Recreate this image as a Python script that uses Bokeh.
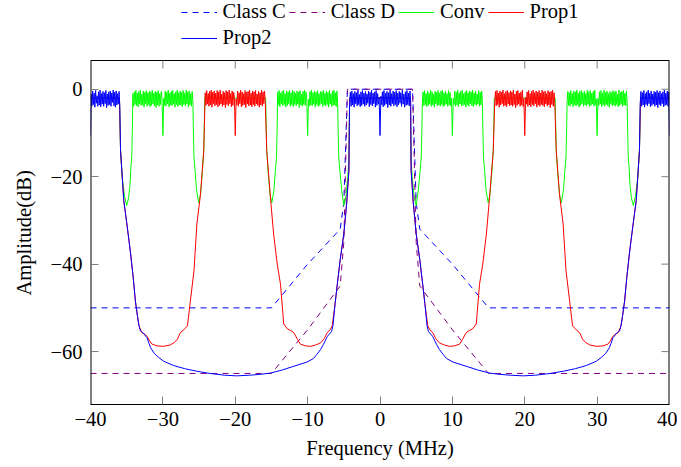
import numpy as np
from bokeh.plotting import figure
from bokeh.models import Range1d, FixedTicker, Legend, LegendItem, Title
from bokeh.embed import file_html
from bokeh.resources import INLINE

# ---------------- data ----------------
x_ticks = [-40, -30, -20, -10, 0, 10, 20, 30, 40]
x_tick_labels = ["\u221240", "\u221230", "\u221220", "\u221210", "0", "10", "20", "30", "40"]
y_ticks = [-60, -40, -20, 0]
y_tick_labels = ["\u221260", "\u221240", "\u221220", "0"]
x_lim = [-40, 40]
y_lim = [-72.1, 6.57]

mask_f = [-40, -15, -10, -5.5, -5, -4.5, 4.5, 5, 5.5, 10, 15, 40]
class_c_db = [-50, -50, -40, -32, -26, 0, 0, -26, -32, -40, -50, -50]
class_d_db = [-65, -65, -55, -45, -35, 0, 0, -35, -45, -55, -65, -65]
notch_db = [-10.6]

# ---- Prop2 (blue) ----
b_edge_l = [-1.2,-3.8,-0.4,-3.5,-0.9,-4.1,-0.3,-3.2,-1.5,-3.9,-0.6,-3.6,-0.2,-4.0,-1.0,-3.4,-0.5,-3.9,-0.8,-3.3,-0.3,-4.2,-1.1,-3.7,-0.6,-3.5,-0.4,-3.9,-0.9,-3.0,-0.2,-3.8,-0.7,-4.1,-0.4,-3.6,-1.0,-3.4,-0.5,-3.9]
b_c1 = [-3.1,-0.7,-3.9,-0.4,-3.6,-1.0,-4.1,-0.5,-3.3,-0.8,-3.8,-0.2,-3.5,-1.2,-4.0,-0.6,-3.7,-0.3,-3.4,-0.9,-3.9,-0.5,-3.6,-1.1,-3.2,-0.4,-4.0,-0.7,-3.5,-0.2,-3.8,-0.9,-3.3,-0.6,-4.1,-0.3,-3.7,-1.0,-3.4,-1.8]
b_c2 = [-1.6,-3.5,-0.6,-4.0,-0.3,-3.7,-0.9,-3.4,-0.5,-4.2,-0.8,-3.6,-0.2,-3.9,-1.0,-3.3,-0.4,-3.8,-0.7,-3.5,-0.3,-4.0,-0.9,-3.6,-0.5,-3.2,-0.8,-3.9,-0.2,-3.4,-1.1,-4.1,-0.6,-3.7,-0.3,-3.5,-0.9,-3.8,-0.4,-3.2]
b_edge_r = [-3.4,-0.5,-3.9,-0.8,-3.6,-0.3,-4.1,-1.0,-3.5,-0.6,-3.8,-0.2,-3.3,-0.9,-4.0,-0.4,-3.7,-1.1,-3.4,-0.5,-3.9,-0.7,-3.6,-0.3,-4.2,-0.8,-3.5,-0.4,-3.8,-1.0,-3.3,-0.6,-4.0,-0.2,-3.7,-0.9,-3.5,-0.4,-3.9,-0.7]
p2_skirt_l_f = [-35.85,-35.6,-35.4,-35.0,-34.5,-34.1,-33.8,-33.5,-33.3,-33.1,-32.8,-32.5,-32.2,-31.9,-31.7,-31.2,-30.6,-29.9,-28.5,-27.0,-25.3,-23.5,-21.5,-19.8,-18.0,-16.5,-15.1,-13.5,-12.0,-10.1,-9.2,-8.7,-8.2,-7.8,-7.3,-7.0,-6.7,-6.5,-6.2,-5.9,-5.5,-5.0,-4.6,-4.3]
p2_skirt_l_db = [-14.0,-20.5,-25.5,-30.5,-37.0,-43.0,-48.4,-52.0,-54.1,-55.3,-55.6,-56.2,-56.8,-58.2,-59.1,-60.4,-61.3,-62.2,-63.2,-63.9,-64.5,-65.0,-65.4,-65.55,-65.4,-65.2,-64.9,-64.2,-63.4,-62.4,-61.6,-60.6,-59.5,-58.3,-56.6,-56.0,-55.4,-54.1,-49.0,-44.6,-39.0,-33.1,-26.0,-18.6]
p2_skirt_r_f = [4.3,4.6,5.0,5.5,5.9,6.2,6.5,6.7,7.0,7.3,7.8,8.2,8.7,9.2,10.1,12.0,13.5,15.1,16.5,18.0,19.8,21.5,23.5,25.3,27.0,28.5,29.9,30.6,31.2,31.7,31.9,32.2,32.5,32.8,33.1,33.3,33.5,33.8,34.1,34.5,35.0,35.4,35.6,35.85]
p2_skirt_r_db = [-18.6,-26.0,-33.1,-39.0,-44.6,-49.0,-54.1,-55.4,-56.0,-56.6,-58.3,-59.5,-60.6,-61.6,-62.4,-63.4,-64.2,-64.9,-65.2,-65.4,-65.55,-65.4,-65.0,-64.5,-63.9,-63.2,-62.2,-61.3,-60.4,-59.1,-58.2,-56.8,-56.2,-55.6,-55.3,-54.1,-52.0,-48.4,-43.0,-37.0,-30.5,-25.5,-20.5,-14.0]

# ---- Prop1 (red) ----
r1a = [-0.8,-3.7,-0.3,-3.4,-1.0,-3.9,-0.5,-3.6,-0.2,-4.1,-0.7,-3.3,-0.4,-3.8,-0.9,-3.5,-0.3,-4.0,-0.6,-3.7,-0.2,-3.4,-1.1,-3.9,-0.5,-3.6,-0.8,-4.2,-0.3,-3.5,-0.6,-3.8,-0.2,-3.3,-1.0,-4.0,-0.4,-3.7,-0.7,-2.0]
r1b = [-2.2,-3.6,-0.4,-3.9,-0.8,-3.3,-0.2,-4.0,-0.6,-3.7,-1.0,-3.5,-0.3,-4.2,-0.7,-3.4,-0.5,-3.8,-0.2,-3.6,-0.9,-4.0,-0.4,-3.5,-0.6,-3.9,-0.3,-3.4,-1.1,-3.7,-0.5,-4.1,-0.8,-3.6,-0.2,-3.8,-0.6,-3.3,-0.4,-3.1]
r2a = [-3.0,-0.5,-3.8,-0.3,-3.5,-0.9,-4.1,-0.4,-3.6,-0.7,-3.3,-0.2,-3.9,-1.0,-3.7,-0.5,-4.0,-0.3,-3.4,-0.8,-3.8,-0.4,-3.6,-0.6,-3.9,-0.2,-3.5,-1.1,-4.2,-0.5,-3.7,-0.3,-3.4,-0.9,-3.9,-0.6,-3.6,-0.2,-4.0,-2.1]
r2b = [-1.9,-3.4,-0.6,-3.9,-0.3,-3.6,-1.0,-4.0,-0.5,-3.5,-0.2,-3.8,-0.8,-3.3,-0.4,-4.1,-0.7,-3.6,-0.3,-3.9,-0.9,-3.5,-0.2,-3.7,-0.6,-4.0,-0.4,-3.4,-1.0,-3.8,-0.3,-3.6,-0.7,-4.2,-0.5,-3.5,-0.2,-3.9,-0.8,-3.2]
p1_l_f = [-40.0,-36.0,-35.85,-35.6,-35.4,-35.0,-34.5,-34.1,-33.8,-33.5,-33.3,-32.9,-32.5,-32.2,-31.8,-31.5,-30.8,-29.9,-29.0,-28.4,-28.0,-27.6,-27.1,-26.6,-26.2,-25.7,-25.3,-24.8,-24.35]
p1_l_db = [-2.0,-2.0,-14.0,-20.5,-25.5,-30.5,-37.0,-43.0,-48.4,-52.0,-54.1,-55.7,-56.0,-56.5,-57.6,-58.3,-58.7,-58.8,-58.5,-57.9,-57.2,-55.7,-55.0,-54.1,-48.4,-41.5,-30.8,-24.0,-14.0]
p1_m_f = [-15.65,-15.1,-14.7,-14.2,-13.75,-13.3,-12.8,-12.3,-11.9,-11.4,-11.0,-10.3,-9.6,-8.9,-8.2,-7.7,-7.3,-6.9,-6.6,-6.2,-5.9,-5.5,-5.0,-4.6,-4.3,-4.2,
          4.2,4.3,4.6,5.0,5.5,5.9,6.2,6.6,6.9,7.3,7.7,8.2,8.9,9.6,10.3,11.0,11.4,11.9,12.3,12.8,13.3,13.75,14.2,14.7,15.1,15.65]
p1_m_db = [-14.0,-25.5,-33.1,-40.0,-44.6,-53.7,-54.8,-55.2,-55.7,-57.2,-58.3,-58.7,-58.8,-58.5,-58.0,-57.0,-55.7,-55.0,-54.1,-49.0,-44.6,-39.0,-33.1,-26.0,-18.6,-2.0,
           -2.0,-18.6,-26.0,-33.1,-39.0,-44.6,-49.0,-54.1,-55.0,-55.7,-57.0,-58.0,-58.5,-58.8,-58.7,-58.3,-57.2,-55.7,-55.2,-54.8,-53.7,-44.6,-40.0,-33.1,-25.5,-14.0]
p1_r_f = [24.35,24.8,25.3,25.7,26.2,26.6,27.1,27.6,28.0,28.4,29.0,29.9,30.8,31.5,31.8,32.2,32.5,32.9,33.3,33.5,33.8,34.1,34.5,35.0,35.4,35.6,35.85,36.0,40.0]
p1_r_db = [-14.0,-24.0,-30.8,-41.5,-48.4,-54.1,-55.0,-55.7,-57.2,-57.9,-58.5,-58.8,-58.7,-58.3,-57.6,-56.5,-56.0,-55.7,-54.1,-52.0,-48.4,-43.0,-37.0,-30.5,-25.5,-20.5,-14.0,-2.0,-2.0]

# ---- Conv (green) ----
g1a = [-1.0,-3.9,-0.6,-3.5,-0.3,-3.8,-0.9,-4.0,-0.5,-3.4,-0.2,-3.7,-1.1,-3.6,-0.4,-4.1,-0.7,-3.3,-0.3,-3.9,-0.8,-3.5,-0.5,-4.0,-0.6,-3.7,-0.2,-3.4,-0.9,-3.8,-0.4,-4.2,-0.7,-3.6,-0.3,-3.9,-1.0,-3.5,-0.5,-2.2]
g1b = [-2.0,-3.7,-0.4,-3.9,-0.7,-3.4,-0.2,-4.0,-0.9,-3.6,-0.5,-3.8,-0.3,-3.3,-1.0,-4.1,-0.6,-3.5,-0.2,-3.9,-0.8,-3.6,-0.4,-3.7,-0.7,-4.0,-0.3,-3.5,-0.9,-3.8,-0.2,-3.4,-0.6,-4.1,-0.4,-3.6,-1.0,-3.9,-0.5,-3.0]
g2a = [-0.7,-3.6,-0.3,-4.0,-0.9,-3.4,-0.5,-3.8,-0.2,-3.5,-1.0,-4.1,-0.4,-3.7,-0.6,-3.3,-0.3,-3.9,-0.8,-3.6,-0.2,-4.0,-0.5,-3.5,-0.9,-3.8,-0.4,-3.4,-0.7,-4.2,-0.3,-3.6,-1.1,-3.9,-0.5,-3.5,-0.2,-3.7,-0.6,-2.1]
g2b = [-2.3,-3.9,-0.5,-3.6,-0.2,-3.8,-0.8,-3.4,-0.4,-4.1,-0.7,-3.5,-0.3,-3.9,-1.0,-3.7,-0.5,-3.3,-0.6,-4.0,-0.2,-3.6,-0.9,-3.8,-0.4,-3.5,-0.7,-4.1,-0.3,-3.4,-1.0,-3.9,-0.5,-3.7,-0.2,-3.6,-0.8,-4.0,-0.4,-3.1]
g3a = [-3.2,-0.6,-3.8,-0.3,-3.5,-1.0,-4.0,-0.4,-3.7,-0.8,-3.4,-0.2,-3.9,-0.6,-3.6,-1.1,-4.1,-0.5,-3.3,-0.7,-3.8,-0.3,-3.6,-0.9,-3.9,-0.4,-3.5,-0.2,-4.0,-0.8,-3.7,-0.5,-3.4,-1.0,-3.9,-0.3,-3.6,-0.7,-3.8,-2.0]
g3b = [-2.1,-3.5,-0.4,-3.9,-0.7,-3.6,-0.2,-4.0,-0.9,-3.4,-0.5,-3.8,-0.3,-3.7,-1.0,-3.5,-0.6,-4.1,-0.3,-3.6,-0.8,-3.9,-0.4,-3.3,-0.6,-3.8,-0.2,-4.0,-0.9,-3.5,-0.5,-3.7,-1.1,-3.4,-0.3,-3.9,-0.7,-3.6,-0.4,-3.0]
g4a = [-3.0,-0.5,-3.7,-0.8,-3.9,-0.3,-3.4,-1.0,-4.0,-0.4,-3.6,-0.6,-3.8,-0.2,-3.5,-0.9,-4.1,-0.5,-3.7,-0.3,-3.3,-0.8,-3.9,-0.4,-3.6,-1.0,-3.8,-0.2,-3.5,-0.6,-4.0,-0.3,-3.7,-0.9,-3.4,-0.5,-3.9,-0.2,-3.6,-2.2]
g4b = [-2.0,-3.8,-0.6,-3.4,-0.3,-4.0,-0.9,-3.6,-0.2,-3.9,-0.7,-3.5,-0.4,-3.7,-1.0,-4.1,-0.5,-3.3,-0.8,-3.8,-0.3,-3.6,-0.6,-3.9,-0.4,-3.5,-1.1,-4.0,-0.2,-3.7,-0.7,-3.4,-0.5,-3.9,-0.3,-3.6,-0.9,-3.8,-0.4,-3.1]
cv_a_f = [-40.0,-36.0,-35.85,-35.6,-35.3,-35.0,-34.75,-34.55,-34.4,-34.3,-34.2]
cv_a_db = [-2.0,-2.0,-14.0,-20.5,-24.5,-26.6,-25.0,-22.0,-17.5,-15.5,-8.0]
cv_b_f = [-25.8,-25.7,-25.55,-25.35,-25.05,-24.8,-24.55,-24.35,-24.2,-15.8,-15.65,-15.45,-15.2,-14.95,-14.65,-14.45,-14.3,-14.2]
cv_b_db = [-8.0,-15.5,-18.5,-23.0,-26.0,-24.0,-19.0,-14.0,-2.0,-2.0,-14.0,-19.0,-24.0,-26.0,-23.0,-18.5,-15.5,-8.0]
cv_c_f = [-5.8,-5.7,-5.55,-5.3,-5.0,-4.7,-4.45,-4.3,-4.2,4.2,4.3,4.45,4.7,5.0,5.3,5.55,5.7,5.8]
cv_c_db = [-8.0,-15.5,-18.5,-23.0,-26.6,-24.5,-20.0,-16.0,-2.0,-2.0,-16.0,-20.0,-24.5,-26.6,-23.0,-18.5,-15.5,-8.0]
cv_d_f = [14.2,14.3,14.45,14.65,14.95,15.2,15.45,15.65,15.8,24.2,24.35,24.55,24.8,25.05,25.35,25.55,25.7,25.8]
cv_d_db = [-8.0,-15.5,-18.5,-23.0,-26.0,-24.0,-19.0,-14.0,-2.0,-2.0,-14.0,-19.0,-24.0,-26.0,-23.0,-18.5,-15.5,-8.0]
cv_e_f = [34.2,34.3,34.4,34.55,34.75,35.0,35.3,35.6,35.85,36.0,40.0]
cv_e_db = [-8.0,-15.5,-17.5,-22.0,-25.0,-26.6,-24.5,-20.5,-14.0,-2.0,-2.0]


def build(pieces):
    xs, ys = [], []
    for piece in pieces:
        if piece[0] == "band":
            _, f0, f1, vals = piece
            xs.extend(np.linspace(f0, f1, len(vals)).tolist())
            ys.extend(vals)
        else:
            _, fr, db = piece
            xs.extend(fr)
            ys.extend(db)
    return xs, ys


prop2_x, prop2_y = build([
    ("pts", [-40.0], notch_db),
    ("band", -39.9, -35.95, b_edge_l), ("pts", p2_skirt_l_f, p2_skirt_l_db),
    ("band", -4.2, -0.12, b_c1), ("pts", [0.0], notch_db), ("band", 0.12, 4.25, b_c2),
    ("pts", p2_skirt_r_f, p2_skirt_r_db), ("band", 35.95, 39.9, b_edge_r),
    ("pts", [40.0], notch_db)])
prop1_x, prop1_y = build([
    ("pts", p1_l_f, p1_l_db),
    ("band", -24.15, -20.12, r1a), ("pts", [-20.0], notch_db), ("band", -19.88, -15.85, r1b),
    ("pts", p1_m_f, p1_m_db),
    ("band", 15.85, 19.88, r2a), ("pts", [20.0], notch_db), ("band", 20.12, 24.15, r2b),
    ("pts", p1_r_f, p1_r_db)])
conv_x, conv_y = build([
    ("pts", cv_a_f, cv_a_db),
    ("band", -34.15, -30.12, g1a), ("pts", [-30.0], notch_db), ("band", -29.88, -25.85, g1b),
    ("pts", cv_b_f, cv_b_db),
    ("band", -14.15, -10.12, g2a), ("pts", [-10.0], notch_db), ("band", -9.88, -5.85, g2b),
    ("pts", cv_c_f, cv_c_db),
    ("band", 5.85, 9.88, g3a), ("pts", [10.0], notch_db), ("band", 10.12, 14.15, g3b),
    ("pts", cv_d_f, cv_d_db),
    ("band", 25.85, 29.88, g4a), ("pts", [30.0], notch_db), ("band", 30.12, 34.15, g4b),
    ("pts", cv_e_f, cv_e_db)])

# ---------------- figure ----------------
FONT = "Liberation Serif"
FS = "20.5px"
TICK_PX = 8
W, H = 677, 465
BORDER_L, BORDER_R, BORDER_B = 90, 8, 61
LEGEND_PX = 60          # space above the axes box used by the legend
BOX_PX = H - BORDER_B - LEGEND_PX
# the frame reaches above the axes box so that the legend can sit there
y_frame_top = y_lim[1] + LEGEND_PX * (y_lim[1] - y_lim[0]) / BOX_PX

p = figure(width=W, height=H, output_backend="svg", toolbar_location=None,
           x_range=Range1d(*x_lim), y_range=Range1d(y_lim[0], y_frame_top),
           min_border_left=BORDER_L, min_border_right=BORDER_R, min_border_top=0,
           min_border_bottom=BORDER_B)
p.grid.visible = False
p.outline_line_color = None

r_c = p.line(mask_f, class_c_db, line_color="#0000ff", line_width=1, line_dash="6 5")
r_d = p.line(mask_f, class_d_db, line_color="#800080", line_width=1, line_dash="6 5")
r_g = p.line(conv_x, conv_y, line_color="#00ff00", line_width=1)
r_r = p.line(prop1_x, prop1_y, line_color="#ff0000", line_width=1)
r_b = p.line(prop2_x, prop2_y, line_color="#0000ff", line_width=1)

# axes box: top edge, and left/right edges (half clipped by the frame -> 1px)
p.segment(x0=[x_lim[0]], y0=[y_lim[1]], x1=[x_lim[1]], y1=[y_lim[1]], line_color="black", line_width=1)
p.segment(x0=x_lim, y0=[y_lim[0]] * 2, x1=x_lim, y1=[y_lim[1]] * 2, line_color="black", line_width=2)

# inward ticks on the top and right edges
p.ray(x=x_ticks, y=[y_lim[1]] * len(x_ticks), length=TICK_PX, length_units="screen",
      angle=-np.pi / 2, line_color="#7f7f7f", line_width=1)
p.ray(x=[x_lim[1]] * len(y_ticks), y=y_ticks, length=TICK_PX, length_units="screen",
      angle=np.pi, line_color="#7f7f7f", line_width=1)

for ax, ticks, labels in ((p.xaxis[0], x_ticks, x_tick_labels), (p.yaxis[0], y_ticks, y_tick_labels)):
    ax.ticker = FixedTicker(ticks=ticks)
    ax.major_label_overrides = {t: l for t, l in zip(ticks, labels)}
    ax.axis_line_color = None
    ax.major_tick_in = TICK_PX
    ax.major_tick_out = 0
    ax.major_tick_line_color = "#7f7f7f"
    ax.minor_tick_line_color = None
    ax.major_label_text_font = FONT
    ax.major_label_text_font_size = FS
    ax.major_label_text_color = "black"
    ax.axis_label_text_font = FONT
    ax.axis_label_text_font_style = "normal"
    ax.axis_label_text_font_size = FS
    ax.axis_label_text_color = "black"

p.xaxis[0].axis_line_color = "black"
p.xaxis[0].axis_label = "Frequency (MHz)"
p.xaxis[0].major_label_standoff = 7
p.xaxis[0].axis_label_standoff = 8
p.yaxis[0].major_label_standoff = 8

# y-axis title, centred on the axes box (not on the taller frame)
ytitle = Title(text="Amplitude(dB)", align="left", offset=109, vertical_align="top",
               standoff=22, text_font=FONT, text_font_size=FS, text_font_style="normal",
               text_color="black")
p.add_layout(ytitle, "left")

legend = Legend(items=[
    LegendItem(label="Class C", renderers=[r_c]),
    LegendItem(label="Class D", renderers=[r_d]),
    LegendItem(label="Conv", renderers=[r_g]),
    LegendItem(label="Prop1", renderers=[r_r]),
    LegendItem(label="Prop2", renderers=[r_b]),
], orientation="horizontal", ncols=4, location="top_center")
legend.label_text_font = FONT
legend.label_text_font_size = FS
legend.label_text_line_height = 1.0
legend.label_text_color = "black"
legend.glyph_width = 36
legend.glyph_height = 18
legend.label_height = 18
legend.label_standoff = 6
legend.spacing = 3
legend.padding = 0
legend.margin = 0
legend.border_line_color = None
legend.background_fill_alpha = 0
p.add_layout(legend, "center")

open("out.html", "w").write(file_html(p, INLINE))
